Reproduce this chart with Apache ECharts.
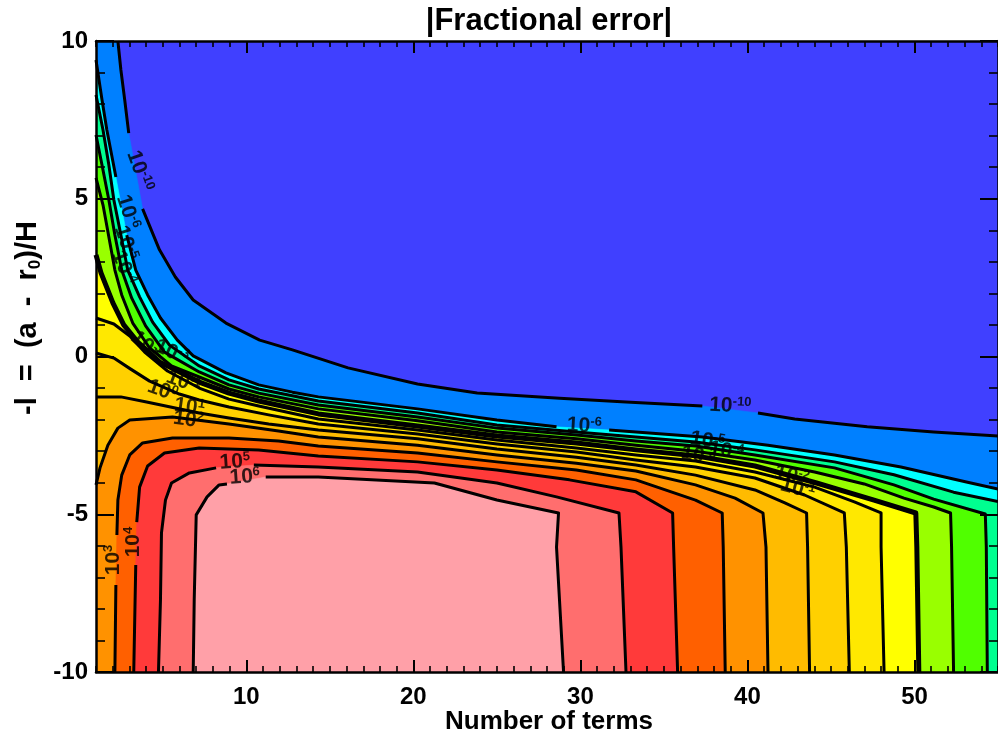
<!DOCTYPE html>
<html>
<head>
<meta charset="utf-8">
<script src="https://cdn.jsdelivr.net/npm/echarts/dist/echarts.min.js"></script>
<style>
  html, body { margin: 0; padding: 0; background: #fff; }
  #main { width: 998px; height: 742px; }
</style>
</head>
<body>
<div id="main"></div>
<script>
// |Fractional error| contour map: number of terms (x) against -l = (a - r0)/H (y).
// Each contour is a list of [terms, -l] vertices; a GAP entry breaks the drawn
// line where a level label sits (the filled area still runs straight across).
const GAP = ['-', '-'];

const xMin = 1, xMax = 55, yMin = -10, yMax = 10;
const xMajorTicks = [10, 20, 30, 40, 50];
const xMinorTicks = [1,2,3,4,5,6,7,8,9,10,11,12,13,14,15,16,17,18,19,20,21,22,23,24,25,26,27,28,29,30,
                     31,32,33,34,35,36,37,38,39,40,41,42,43,44,45,46,47,48,49,50,51,52,53,54,55];

// contour levels, as powers of ten
const levelExp = [-10, -6, -5, -4, -3, -2, -1, 0, 1, 2, 3, 4, 5, 6];

const c_m10 = [[2.31,10.00],[2.49,9.08],[2.72,8.13],[2.96,7.08],GAP,[3.79,4.68],[4.80,3.38],[5.75,2.52],[6.82,1.79],
  [8.78,1.06],[10.80,0.52],[12.76,0.21],[16.09,-0.36],[20.25,-0.87],[23.82,-1.16],[28.75,-1.32],[32.73,-1.44],
  [37.30,-1.57],GAP,[40.63,-1.79],[42.83,-1.98],[47.17,-2.23],[51.15,-2.39],[55,-2.52]];
const c_m6 = [[1.00,9.40],[1.36,8.13],[1.65,7.18],[2.19,5.69],GAP,[2.84,3.85],[3.38,2.74],[4.09,1.95],[4.86,1.22],
  [5.87,0.52],[6.82,0.02],[8.78,-0.52],[10.74,-0.90],[12.76,-1.13],[14.31,-1.28],[20.25,-1.66],[25.00,-2.01],
  [28.57,-2.23],GAP,[31.72,-2.33],[33.32,-2.39],[37.30,-2.55],[41.23,-2.81],[45.21,-3.12],[49.19,-3.50],
  [53.11,-3.98],[55,-4.20]];
const c_m5 = [[1.00,8.29],[1.42,7.18],[1.77,6.07],[2.07,4.96],[2.49,3.85],[2.90,2.74],[3.61,1.89],[4.39,1.09],
  [5.40,0.36],[7.18,-0.30],[8.96,-0.74],[10.74,-1.03],[14.31,-1.41],[20.25,-1.79],[25.00,-2.17],[29.76,-2.39],
  [33.32,-2.55],[36.89,-2.71],[40.45,-2.96],[45.21,-3.34],[48.77,-3.75],[52.34,-4.30],[55,-4.60]];
const c_m4 = [[1.00,7.02],[1.36,6.07],[1.77,4.96],[2.13,3.85],[2.54,2.74],[3.14,1.85],[3.97,0.97],[5.10,0.14],
  [7.18,-0.49],[8.96,-0.90],[10.74,-1.16],[14.31,-1.54],[20.25,-1.92],[25.00,-2.27],[29.76,-2.49],[33.32,-2.68],
  [36.89,-2.84],[40.45,-3.12],[45.21,-3.53],[48.77,-4.07],[51.15,-4.52],[54.24,-4.99],[54.30,-6.04],[54.36,-10]];
const c_m3 = [[1.00,5.66],[1.42,4.80],[1.77,3.79],[2.13,2.74],[2.54,1.95],[3.20,1.06],[4.21,0.27],[5.52,-0.30],
  [7.18,-0.65],[8.96,-1.03],[10.74,-1.28],[14.31,-1.66],[20.25,-2.04],[25.00,-2.39],[29.76,-2.61],[33.32,-2.81],
  [36.89,-3.00],[40.45,-3.28],[44.02,-3.66],[46.99,-4.04],[49.37,-4.49],[51.15,-4.77],[52.16,-4.96],[52.22,-6.04],
  [52.34,-10]];
const c_m2 = [[1.00,3.22],[1.30,2.65],[2.01,1.70],[2.66,1.00],[3.50,0.46],[4.80,-0.17],[7.18,-0.81],[8.96,-1.16],
  [10.74,-1.41],[14.31,-1.82],[20.25,-2.20],[25.00,-2.52],[29.76,-2.74],[33.32,-2.96],[36.89,-3.15],[40.45,-3.47],
  [44.14,-4.01],[47.58,-4.55],[50.08,-4.96],[50.14,-6.04],[50.26,-10]];
const c_m1 = [[1.00,1.22],[2.07,1.03],[3.02,0.65],[3.91,0.14],[5.28,-0.46],[7.18,-1.00],[8.96,-1.35],[10.74,-1.57],
  [14.31,-1.98],[20.25,-2.33],[25.00,-2.65],[29.76,-2.90],[33.32,-3.12],[36.89,-3.31],[40.45,-3.66],[44.02,-4.14],
  [46.40,-4.61],[48.00,-4.96],[48.00,-6.04],[48.18,-10]];
const c_0 = [[1.00,0.11],[2.07,-0.05],[3.08,-0.40],[4.21,-0.78],[5.99,-1.19],[7.18,-1.38],[8.96,-1.60],[11.34,-1.85],
  [14.31,-2.14],[20.25,-2.46],[25.00,-2.77],[29.76,-3.03],[33.32,-3.28],[36.89,-3.50],[40.45,-3.85],[43.42,-4.39],
  [45.80,-4.96],[45.92,-6.04],[46.10,-10]];
const c_1 = [[1.00,-1.28],[2.49,-1.28],[4.03,-1.44],[5.46,-1.60],[7.18,-1.79],[8.96,-1.95],[11.34,-2.14],[14.31,-2.33],
  [20.25,-2.61],[25.00,-2.93],[29.76,-3.19],[33.32,-3.44],[36.89,-3.76],[40.45,-4.23],[42.24,-4.64],[43.54,-4.96],
  [43.60,-6.04],[43.72,-10]];
const c_2 = [[1.00,-4.07],[1.24,-3.53],[1.71,-2.81],[2.31,-2.27],[3.02,-2.01],[5.58,-1.92],[8.96,-2.14],[11.93,-2.36],
  [14.31,-2.55],[20.25,-2.81],[25.00,-3.12],[29.76,-3.38],[33.32,-3.63],[36.89,-4.07],[39.26,-4.49],[40.93,-4.96],
  [41.11,-6.04],[41.23,-10]];
const c_3 = [[2.13,-10],[2.19,-7.24],GAP,[2.25,-5.66],[2.31,-4.55],[2.54,-3.76],[3.02,-3.12],[3.79,-2.74],[5.58,-2.58],
  [8.96,-2.58],[11.93,-2.68],[14.31,-2.84],[20.25,-3.06],[25.00,-3.34],[29.76,-3.60],[33.32,-3.91],[36.89,-4.55],
  [38.49,-4.96],[38.55,-6.04],[38.67,-10]];
const c_4 = [[3.26,-10],[3.38,-6.61],GAP,[3.44,-5.25],[3.61,-4.14],[4.09,-3.47],[5.10,-3.06],[7.18,-2.90],[10.74,-2.96],
  [14.31,-3.15],[20.25,-3.34],[25.00,-3.60],[29.34,-3.91],[33.32,-4.29],[35.52,-4.96],[35.58,-6.04],[35.82,-10]];
const c_5 = [[4.74,-10],[4.86,-7.72],[4.92,-5.59],[5.16,-4.55],[5.52,-4.01],[6.59,-3.69],[8.19,-3.53],GAP,[10.45,-3.44],
  [14.31,-3.50],[20.25,-3.66],[25.00,-4.01],[28.57,-4.45],[32.31,-4.96],[32.43,-6.04],[32.73,-10]];
const c_6 = [[6.82,-10],[6.88,-7.72],[7.00,-5.02],[7.65,-4.45],[8.37,-4.07],[8.84,-4.04],GAP,[11.16,-3.82],[14.31,-3.82],
  [21.26,-4.01],[25.00,-4.55],[28.69,-4.96],[28.57,-6.04],[28.99,-10]];

// level labels: exponent text, position (terms, -l) and angle
const labelExp   = ['-10','-6','-5','-4','-2','-3','-1','0','1','2','5','6','3','4','-6','-10','-3','-5','-4','-2','-1'];
const labelX     = [3.61, 2.90, 2.78, 2.66, 4.03, 5.52, 6.23, 4.98, 6.59, 6.53, 9.32, 9.91, 2.01, 3.20, 30.23, 38.97, 37.06, 37.60, 38.73, 42.65, 43.01];
const labelY     = [5.88, 4.58, 3.60, 2.81, 0.33, 0.14, -0.81, -1.09, -1.60, -2.01, -3.34, -3.82, -6.45, -5.88, -2.20, -1.57, -3.15, -2.68, -3.00, -3.79, -4.20];
const labelAngle = [-70, -72, -72, -68, -40, -25, -20, -20, -8, -8, 4, 4, 90, 90, -3, -3, -10, -10, -10, -15, -15];

// fill colour of the band lying above each level
const bandColors = ['#0080FF', '#00FFFF', '#00FF90', '#50FF00', '#99FF00', '#FFFF00', '#FFE800',
                    '#FFD000', '#FFBB00', '#FF9200', '#FF6000', '#FF3A3A', '#FF6E6E', '#FFA0A8'];
const lowestColor = '#4040FF';

const contours = [c_m10, c_m6, c_m5, c_m4, c_m3, c_m2, c_m1, c_0, c_1, c_2, c_3, c_4, c_5, c_6];

// corners of the plot box that close each "error above level" region
const closures = [
  [[xMax, yMin], [xMin, yMin], [xMin, yMax]],
  [[xMax, yMin], [xMin, yMin]],
  [[xMax, yMin], [xMin, yMin]],
  [[xMin, yMin]], [[xMin, yMin]], [[xMin, yMin]], [[xMin, yMin]], [[xMin, yMin]], [[xMin, yMin]], [[xMin, yMin]],
  [], [], [], []
];

const FONT = '"Liberation Sans", Arial, Helvetica, sans-serif';
const black = '#000';

const chart = echarts.init(document.getElementById('main'), null, { renderer: 'canvas' });

const fillSeries = {
  type: 'custom',
  coordinateSystem: 'cartesian2d',
  clip: true,
  silent: true,
  z: 1,
  data: levelExp.map((e, i) => [i, e]),
  renderItem: function (params, api) {
    const i = params.dataIndex;
    const pts = contours[i].filter(p => p !== GAP).concat(closures[i]).map(p => api.coord(p));
    return {
      type: 'polygon',
      shape: { points: pts },
      style: { fill: bandColors[i], stroke: bandColors[i], lineWidth: 0.6 }
    };
  }
};

const lineSeries = contours.map((c, i) => ({
  type: 'line',
  data: c,
  symbol: 'none',
  showSymbol: false,
  connectNulls: false,
  clip: true,
  silent: true,
  z: 3,
  lineStyle: { color: black, width: levelExp[i] === -2 ? 5 : 3, join: 'round' }
}));

const labelSeries = {
  type: 'scatter',
  symbolSize: 0,
  silent: true,
  z: 5,
  data: labelExp.map((e, i) => ({
    value: [labelX[i], labelY[i]],
    label: {
      show: true,
      position: 'inside',
      rotate: labelAngle[i],
      formatter: '{b|10}{s|' + e + '}'
    }
  })),
  label: {
    rich: {
      b: { fontSize: 21, fontWeight: 'bold', fontFamily: FONT, color: black, lineHeight: 22 },
      s: { fontSize: 13, fontWeight: 'bold', fontFamily: FONT, color: black, verticalAlign: 'top', lineHeight: 22 }
    }
  }
};

function xAxisDef(position, major) {
  return {
    type: 'value', min: xMin, max: xMax, position: position, z: 10,
    axisLine: { show: major, onZero: false, lineStyle: { color: black, width: 2.5 } },
    axisTick: { show: true, inside: true, length: major ? 12 : 6,
                customValues: major ? xMajorTicks : xMinorTicks,
                lineStyle: { color: black, width: major ? 2 : 1.6 } },
    axisLabel: (major && position === 'bottom')
      ? { show: true, customValues: xMajorTicks, margin: 13, color: black, fontSize: 24,
          fontWeight: 'bold', fontFamily: FONT }
      : { show: false },
    splitLine: { show: false }
  };
}

function yAxisDef(position) {
  return {
    type: 'value', min: yMin, max: yMax, interval: 5, position: position, z: 10,
    axisLine: { show: true, onZero: false, lineStyle: { color: black, width: 2.5 } },
    axisTick: { show: true, inside: true, length: 18, lineStyle: { color: black, width: 2 } },
    minorTick: { show: true, splitNumber: 5, length: 9, lineStyle: { color: black, width: 1.6 } },
    axisLabel: position === 'left'
      ? { show: true, margin: 8, color: black, fontSize: 24, fontWeight: 'bold', fontFamily: FONT }
      : { show: false },
    splitLine: { show: false },
    minorSplitLine: { show: false }
  };
}

chart.setOption({
  animation: false,
  backgroundColor: '#fff',
  grid: { left: 96, right: -7, top: 41, bottom: 70, show: true,
          backgroundColor: lowestColor, borderWidth: 0 },
  xAxis: [xAxisDef('bottom', true), xAxisDef('bottom', false), xAxisDef('top', true), xAxisDef('top', false)],
  yAxis: [yAxisDef('left'), yAxisDef('right')],
  series: [fillSeries].concat(lineSeries, [labelSeries]),
  graphic: [
    { type: 'text', x: 549, y: 21, z: 20,
      style: { text: '|Fractional error|', fill: black, fontSize: 31, fontWeight: 'bold',
               fontFamily: FONT, align: 'center', verticalAlign: 'middle' } },
    { type: 'text', x: 549, y: 722, z: 20,
      style: { text: 'Number of terms', fill: black, fontSize: 26, fontWeight: 'bold',
               fontFamily: FONT, align: 'center', verticalAlign: 'middle' } },
    { type: 'text', x: 28, y: 318, z: 20, rotation: Math.PI / 2,
      style: { text: '{m|-l  =  (a  -  r}{s|0}{m|)/H}', fill: black, align: 'center', verticalAlign: 'middle',
               rich: {
                 m: { fontSize: 29, fontWeight: 'bold', fontFamily: FONT, fill: black, lineHeight: 32 },
                 s: { fontSize: 17, fontWeight: 'bold', fontFamily: FONT, fill: black, verticalAlign: 'bottom', lineHeight: 32 }
               } } }
  ]
});
</script>
</body>
</html>
